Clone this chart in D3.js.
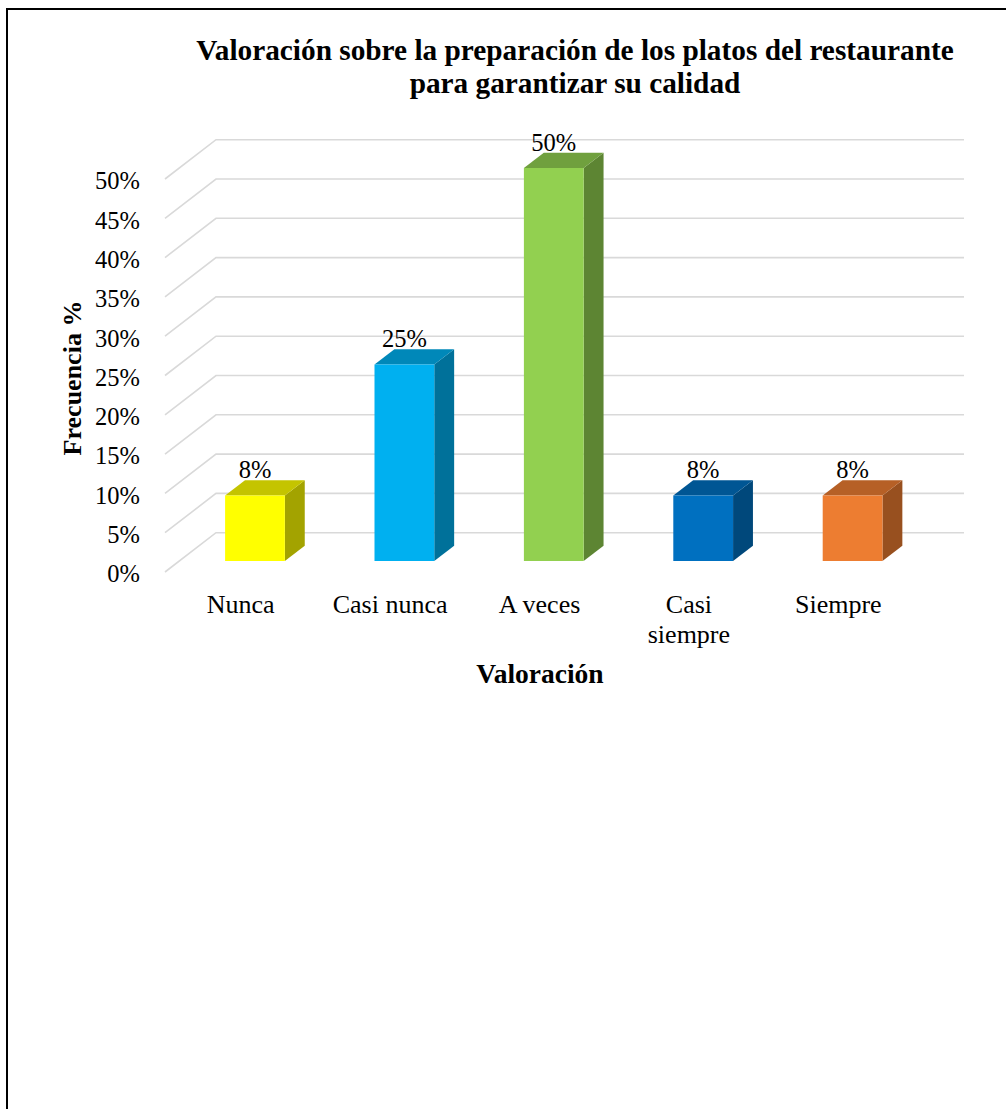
<!DOCTYPE html>
<html>
<head>
<meta charset="utf-8">
<script src="https://cdn.jsdelivr.net/npm/d3@7"></script>
<style>
  html, body { margin: 0; padding: 0; background: #fff; }
  svg { display: block; }
  text { font-family: "Liberation Serif", serif; fill: #000; }
</style>
</head>
<body>
<svg id="chart" width="1006" height="1109"></svg>
<script>
// Survey answers: share of respondents per rating (12 respondents in total)
const categories = ["Nunca", "Casi nunca", "A veces", "Casi siempre", "Siempre"];
const percentages = [8.33, 25, 50, 8.33, 8.33];
const frontColors = ["#FFFF00", "#00B0F0", "#92D050", "#0070C0", "#ED7D31"];
const yTicks = [0, 5, 10, 15, 20, 25, 30, 35, 40, 45, 50];
const titleLines = ["Valoración sobre la preparación de los platos del restaurante",
                    "para garantizar su calidad"];
const yTitle = "Frecuencia %";
const xTitle = "Valoración";

const SERIF = '"Liberation Serif", serif';
const svg = d3.select("#chart");

// page frame
svg.append("path")
  .attr("d", "M7,1109 L7,9 L1006,9")
  .attr("fill", "none").attr("stroke", "#000").attr("stroke-width", 2);

// 3D projection: depth offset of the back wall relative to the front plane
const DX = 51, DY = 39.3;
const depthFront = 0.28, depthBack = 0.67;

const x = d3.scaleBand().domain(categories).range([166, 913]).paddingInner(0).paddingOuter(0);
const y = d3.scaleLinear().domain([0, 50]).range([572, 179]);

const proj = (px, py, d) => [px + d * DX, py - d * DY];

// gridlines: diagonal on the side wall + horizontal on the back wall
const grid = svg.append("g").attr("fill", "none").attr("stroke", "#d9d9d9").attr("stroke-width", 1.6);
yTicks.forEach(t => {
  const a = proj(x.range()[0] - 1, y(t), 0);
  const b = proj(x.range()[0] - 1, y(t), 1);
  const c = proj(x.range()[1], y(t), 1);
  grid.append("path").attr("d", d3.line()([a, b, c]));
});

// y tick labels
const yAxis = svg.append("g")
  .attr("transform", "translate(140,2)")
  .call(d3.axisLeft(y).tickValues(yTicks).tickSize(0).tickPadding(0).tickFormat(d => d + "%"));
yAxis.select(".domain").remove();
yAxis.attr("font-family", null).attr("font-size", null);
yAxis.selectAll("text")
  .style("font-family", SERIF)
  .style("font-size", "24.5px").attr("fill", "#000");

// bars as prisms
const shade = (c, k) => { const r = d3.rgb(c); return d3.rgb(r.r * k, r.g * k, r.b * k).formatHex(); };
const bars = svg.append("g");
categories.forEach((cat, i) => {
  const v = percentages[i];
  const bw = x.bandwidth() * 0.4;
  const cx = x(cat) + x.bandwidth() / 2;
  const x0 = cx - bw / 2, x1 = cx + bw / 2;
  const y0 = y(0), y1 = y(v);
  const f = proj;
  const front = [f(x0, y0, depthFront), f(x1, y0, depthFront), f(x1, y1, depthFront), f(x0, y1, depthFront)];
  const top = [f(x0, y1, depthFront), f(x1, y1, depthFront), f(x1, y1, depthBack), f(x0, y1, depthBack)];
  const side = [f(x1, y0, depthFront), f(x1, y0, depthBack), f(x1, y1, depthBack), f(x1, y1, depthFront)];
  const g = bars.append("g");
  g.append("path").attr("d", d3.line()(side) + "Z").attr("fill", shade(frontColors[i], 0.64));
  g.append("path").attr("d", d3.line()(top) + "Z").attr("fill", shade(frontColors[i], 0.77));
  g.append("path").attr("d", d3.line()(front) + "Z").attr("fill", frontColors[i]);
  const lbl = f(cx, y1, depthBack);
  g.append("text")
    .attr("x", f(cx, y1, depthFront)[0]).attr("y", lbl[1] - 2)
    .attr("text-anchor", "middle").style("font-family", SERIF).style("font-size", "24.5px")
    .text(d3.format(".0f")(v) + "%");
});

// category labels along the front edge
const xAxis = svg.append("g")
  .attr("transform", "translate(0,595)")
  .call(d3.axisBottom(x).tickSize(0).tickPadding(0));
xAxis.select(".domain").remove();
xAxis.attr("font-family", null).attr("font-size", null);
xAxis.selectAll("text")
  .style("font-family", SERIF)
  .style("font-size", "26px").attr("fill", "#000")
  .each(function (d) {
    const el = d3.select(this);
    const words = d.split(" ");
    el.text(d);
    if (this.getComputedTextLength() > 130 && words.length > 1) {
      el.text(null);
      words.forEach((w, k) => el.append("tspan").attr("x", 0).attr("dy", k === 0 ? "0.71em" : "1.15em").text(w));
      el.attr("dy", null);
    }
  });

// titles
svg.append("text").attr("x", 575).attr("y", 60).attr("text-anchor", "middle")
  .style("font-family", SERIF).style("font-size", "29.3px").style("font-weight", "bold")
  .selectAll("tspan").data(titleLines).join("tspan")
  .attr("x", 575).attr("dy", (d, k) => k === 0 ? 0 : 33).text(d => d);

svg.append("text")
  .attr("transform", "translate(81,378) rotate(-90)")
  .attr("text-anchor", "middle")
  .style("font-family", SERIF).style("font-size", "26px").style("font-weight", "bold")
  .text(yTitle);

svg.append("text").attr("x", 540).attr("y", 683).attr("text-anchor", "middle")
  .style("font-family", SERIF).style("font-size", "27.5px").style("font-weight", "bold")
  .text(xTitle);
</script>
</body>
</html>
